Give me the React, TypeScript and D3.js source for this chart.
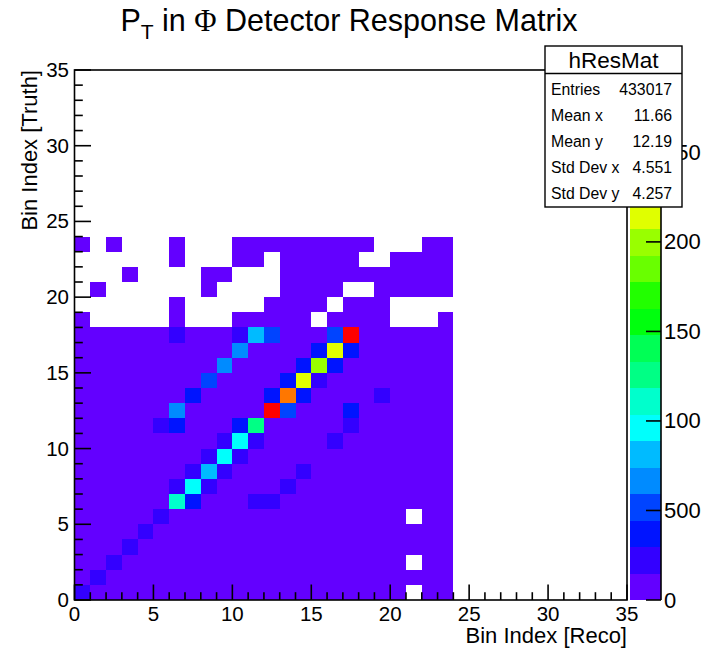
import React from 'react';
import * as d3 from 'd3';

// ---- data (bin contents, truth bin j = row index, reco bin i = column index) ----
const row00 = [25000,12500,10400,8900,7800,6900,6100,5400,4800,4300,3900,3500,3100,2800,2500,2200,2000,1800,1600,1400,1200,0,900,800];
const row01 = [8200,24000,13000,10900,9400,8200,7200,6400,5700,5100,4600,4100,3700,3300,2900,2600,2300,2100,1800,1600,1400,1200,1000,900];
const row02 = [7000,8900,23000,13200,11200,9700,8500,7500,6700,6000,5300,4700,4200,3800,3400,3000,2700,2400,2100,1800,1600,0,1200,1000];
const row03 = [6300,7700,9700,21500,13500,11500,10000,8800,7800,6900,6200,5500,4900,4400,3900,3500,3100,2700,2400,2100,1800,1600,1400,1200];
const row04 = [5800,6900,8400,10500,22000,13800,11800,10300,9100,8100,7200,6400,5700,5100,4600,4100,3600,3200,2800,2400,2100,1800,1600,1400];
const row05 = [5400,6300,7500,9100,11200,21000,13900,12000,10600,9400,8400,7500,6700,6000,5300,4700,4100,3600,3200,2800,2400,0,1900,1700];
const row06 = [5100,5800,6800,8100,9600,11500,110000,37000,13900,12100,10700,17500,16800,7700,6800,6000,5200,4500,3900,3400,2900,2500,2200,1900];
const row07 = [4800,5400,6200,7300,8600,10000,23000,99000,22000,13800,12200,10900,9800,18000,7800,6800,5900,5100,4400,3800,3200,2800,2400,2100];
const row08 = [4600,5100,5800,6700,7800,9000,10300,22000,84000,21500,13600,12300,11000,9900,18500,7800,6700,5800,5000,4200,3600,3100,2700,2400];
const row09 = [4400,4800,5400,6200,7200,8300,9300,10500,22000,98000,22500,13800,12400,11100,9800,8600,7400,6400,5500,4700,4000,3400,2900,2600];
const row10 = [4200,4600,5100,5800,6700,7800,8700,9600,10800,23000,97000,24000,13200,11900,10600,9300,19500,7100,6100,5200,4400,3800,3200,2800];
const row11 = [4000,4400,4800,5400,6200,21000,37000,8800,9700,11000,38000,125000,13600,12800,11500,10000,8800,20000,6700,5700,4800,4100,3500,3000];
const row12 = [3900,4200,4600,5100,5800,6700,68000,8800,9600,10500,11800,13500,296000,53000,13800,12000,10200,36000,7600,6300,5300,4500,3800,3300];
const row13 = [3700,4000,4300,4800,5400,6100,7000,38000,9000,9800,10700,12000,39000,258000,40000,13000,11200,9500,8000,19000,5800,4800,4000,3500];
const row14 = [3500,3800,4100,4500,5000,5700,6400,7400,53000,9300,10000,10800,12000,37000,216000,24000,12500,10500,8800,7300,6000,5000,4200,3600];
const row15 = [3400,3600,3900,4300,4700,5300,6000,6700,7600,64000,9200,9900,10600,11800,36000,200000,39000,11000,9400,7800,6300,5200,4300,3700];
const row16 = [3200,3400,3700,4000,4400,5000,5600,6200,6900,7800,66000,9000,9800,10500,11500,38000,215000,36000,9500,8000,6500,5300,4400,3800];
const row17 = [3000,3200,3500,3800,4200,4800,19000,5500,6000,7000,21000,82000,52000,9000,9500,10000,50000,289000,9000,7500,6000,5000,4200,3600];
const row18 = [900,0,0,0,0,0,1800,0,0,0,3500,4200,5000,5900,6500,0,6200,5400,4400,3500,0,0,0,1300];
const row19 = [0,0,0,0,0,0,1500,0,0,0,0,0,3400,4500,5200,5600,0,4600,3800,3000,0,0,0,0];
const row20 = [0,700,0,0,0,0,0,0,1400,0,0,0,0,3800,4300,4700,4400,0,0,2300,1900,1500,1300,1200];
const row21 = [0,0,0,800,0,0,0,0,1200,1500,0,0,0,3200,3600,3900,3700,3100,2500,2000,1600,1300,1100,1200];
const row22 = [0,0,0,0,0,0,1100,0,0,0,1600,1900,0,2500,2800,3000,2900,2400,0,0,1300,1100,900,1000];
const row23 = [700,0,500,0,0,0,900,0,0,0,1200,1500,1800,2000,2100,2300,2200,1900,1400,0,0,0,800,1000];

const matrix = [row00,row01,row02,row03,row04,row05,row06,row07,row08,row09,row10,row11,
  row12,row13,row14,row15,row16,row17,row18,row19,row20,row21,row22,row23];

const axisTicks = [0, 5, 10, 15, 20, 25, 30, 35];
const zTicks = [0, 50000, 100000, 150000, 200000, 250000];
const statLabels = ['Entries', 'Mean x', 'Mean y', 'Std Dev x', 'Std Dev y'];
const statValues = ['433017', '11.66', '12.19', '4.551', '4.257'];
const histName = 'hResMat';

const FONT = '"Liberation Sans", Arial, Helvetica, sans-serif';
const nContours = 20;

export default function App() {
  const W = 701, H = 649;
  const fx0 = 74.5, fx1 = 627, fy0 = 600, fy1 = 70;
  const xs = d3.scaleLinear().domain([0, 35]).range([fx0, fx1]);
  const ys = d3.scaleLinear().domain([0, 35]).range([fy0, fy1]);
  const zmax = d3.max(matrix.flat()) as number;
  // ROOT "pretty" violet->red palette, 50 colours, sampled for 20 contours
  const palette = d3.range(nContours).map(k => {
    const idx = Math.floor((k + 0.99) * 50 / nContours);
    const hue = 280 - (idx + 1) * (280 / 50);
    return d3.hsl(hue, 1, 0.5).formatHex();
  });
  const zColor = d3.scaleQuantize<string>().domain([0, zmax]).range(palette);
  const zs = d3.scaleLinear().domain([0, zmax]).range([fy0, fy1]);
  const cbx0 = 630, cbx1 = 661;

  const cells: React.ReactNode[] = [];
  matrix.forEach((row, j) => row.forEach((v, i) => {
    if (v <= 0) return;
    cells.push(
      <rect key={`c${i}_${j}`} x={xs(i)} y={ys(j + 1)} width={xs(i + 1) - xs(i)}
        height={ys(j) - ys(j + 1)} fill={zColor(v)} />
    );
  }));

  const minor = d3.range(0, 36);
  const majT = 15.5, minT = 7.8;

  const boxX0 = 545, boxX1 = 682, boxY0 = 46, boxY1 = 207, headY = 73.5;

  return (
    <svg width={W} height={H} style={{ position: 'absolute', left: 0, top: 0, background: '#fff' }}
      fontFamily={FONT}>
      <rect x={0} y={0} width={W} height={H} fill="#fff" />
      {/* title */}
      <text x={349} y={31} textAnchor="middle" fontSize={30.5} fill="#000">
        <tspan>P</tspan>
        <tspan fontSize={21} dy={8}>T</tspan>
        <tspan dy={-8}> in </tspan>
        <tspan fontFamily='"Liberation Serif", "DejaVu Serif", serif'>Φ</tspan>
        <tspan> Detector Response Matrix</tspan>
      </text>
      {/* cells */}
      <g shapeRendering="crispEdges">{cells}</g>
      {/* frame */}
      <rect x={fx0} y={fy1} width={fx1 - fx0} height={fy0 - fy1} fill="none" stroke="#000" strokeWidth={1.6} />
      {/* ticks */}
      <g stroke="#000" strokeWidth={1.6}>
        {minor.map(t => (
          <line key={`xt${t}`} x1={xs(t)} x2={xs(t)} y1={fy0} y2={fy0 - (t % 5 === 0 ? majT : minT)} />
        ))}
        {minor.map(t => (
          <line key={`yt${t}`} y1={ys(t)} y2={ys(t)} x1={fx0} x2={fx0 + (t % 5 === 0 ? majT + 1 : minT + 0.5)} />
        ))}
      </g>
      {axisTicks.map(t => (
        <text key={`xl${t}`} x={xs(t)} y={621} textAnchor="middle" fontSize={20.5}>{t}</text>
      ))}
      {axisTicks.map(t => (
        <text key={`yl${t}`} x={69} y={ys(t) + 7} textAnchor="end" fontSize={20.5}>{t}</text>
      ))}
      <text x={fx1} y={643} textAnchor="end" fontSize={22}>Bin Index [Reco]</text>
      <text transform={`translate(37,${fy1}) rotate(-90)`} textAnchor="end" fontSize={22}>Bin Index [Truth]</text>
      {/* colour bar */}
      <g shapeRendering="crispEdges">
        {palette.map((c, k) => (
          <rect key={`cb${k}`} x={cbx0} width={cbx1 - cbx0} y={zs((k + 1) * zmax / nContours)}
            height={zs(k * zmax / nContours) - zs((k + 1) * zmax / nContours)} fill={c} />
        ))}
      </g>
      <line x1={cbx1} x2={cbx1} y1={fy1} y2={fy0} stroke="#000" strokeWidth={1.6} />
      {zTicks.map(t => (
        <g key={`zt${t}`}>
          <line x1={cbx1 - 15} x2={cbx1} y1={zs(t)} y2={zs(t)} stroke="#000" strokeWidth={1.6} />
          <text x={664} y={zs(t) + 7.5} fontSize={22}>{t}</text>
        </g>
      ))}
      {/* stats box */}
      <rect x={boxX0} y={boxY0} width={boxX1 - boxX0} height={boxY1 - boxY0} fill="#fff" stroke="#000" strokeWidth={1.4} />
      <line x1={boxX0} x2={boxX1} y1={headY} y2={headY} stroke="#000" strokeWidth={1.4} />
      <text x={(boxX0 + boxX1) / 2} y={68} textAnchor="middle" fontSize={22.5}>{histName}</text>
      {statLabels.map((s, r) => (
        <g key={`st${r}`}>
          <text x={551} y={95 + r * 25.9} fontSize={15.8}>{s}</text>
          <text x={672} y={95 + r * 25.9} fontSize={15.8} textAnchor="end">{statValues[r]}</text>
        </g>
      ))}
    </svg>
  );
}
